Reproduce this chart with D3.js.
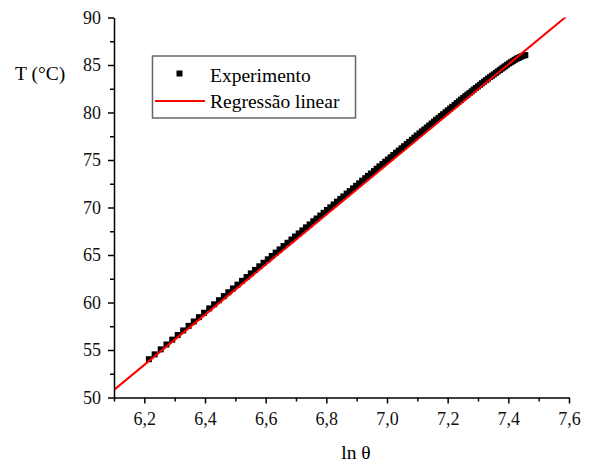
<!DOCTYPE html>
<html>
<head>
<meta charset="utf-8">
<script src="https://cdn.jsdelivr.net/npm/d3@7"></script>
<style>
body { margin: 0; background: #fff; }
</style>
</head>
<body>
<svg width="594" height="464"></svg>
<script>
// experimental points (ln theta, T in C)
let lnTheta = [6.215,6.234,6.254,6.273,6.292,6.310,6.328,6.346,6.363,6.380,6.397,6.414,6.430,6.446,6.462,6.477,6.492,6.507,6.522,6.537,
  6.551,6.565,6.579,6.593,6.607,6.620,6.633,6.646,6.659,6.672,6.685,6.697,6.709,6.721,6.733,6.745,6.757,6.768,6.780,6.791,
  6.802,6.813,6.824,6.835,6.846,6.856,6.867,6.877,6.888,6.898,6.908,6.918,6.928,6.937,6.947,6.957,6.966,6.975,6.985,6.994,
  7.003,7.012,7.021,7.030,7.039,7.048,7.056,7.065,7.073,7.082,7.090,7.098,7.107,7.115,7.123,7.131,7.139,7.147,7.155,7.162,
  7.170,7.178,7.185,7.193,7.200,7.208,7.215,7.223,7.230,7.237,7.244,7.251,7.258,7.265,7.272,7.279,7.286,7.293,7.300,7.307,
  7.313,7.320,7.327,7.333,7.340,7.346,7.352,7.359,7.365,7.372,7.378,7.384,7.390,7.396,7.403,7.409,7.415,7.421,7.427,7.433,
  7.438,7.444,7.450,7.456];
let temps = [54.03,54.54,55.07,55.58,56.09,56.58,57.06,57.54,58.00,58.46,58.92,59.38,59.81,60.24,60.67,61.08,61.48,61.88,62.28,62.68,
  63.06,63.43,63.81,64.18,64.55,64.90,65.25,65.59,65.94,66.29,66.63,66.95,67.27,67.59,67.91,68.22,68.55,68.84,69.15,69.44,
  69.74,70.02,70.32,70.61,70.90,71.17,71.46,71.72,72.01,72.28,72.54,72.82,73.08,73.33,73.58,73.83,74.08,74.33,74.58,74.82,
  75.05,75.29,75.53,75.77,76.00,76.23,76.45,76.68,76.90,77.13,77.35,77.58,77.80,78.01,78.21,78.42,78.63,78.84,79.04,79.24,
  79.44,79.63,79.82,80.02,80.22,80.41,80.60,80.80,80.99,81.17,81.35,81.53,81.71,81.88,82.05,82.23,82.41,82.58,82.75,82.92,
  83.08,83.25,83.41,83.57,83.73,83.87,84.01,84.17,84.32,84.47,84.62,84.75,84.88,85.03,85.18,85.30,85.41,85.54,85.66,85.74,
  85.82,85.91,85.99,86.04];

// linear fit end points
let fitX = [6.1, 7.6];
let fitY = [50.8, 90.34];

let xTicks = [6.2, 6.4, 6.6, 6.8, 7.0, 7.2, 7.4, 7.6];
let xMinor = [6.1, 6.3, 6.5, 6.7, 6.9, 7.1, 7.3, 7.5];
let yTicks = [50, 55, 60, 65, 70, 75, 80, 85, 90];
let yMinor = [52.5, 57.5, 62.5, 67.5, 72.5, 77.5, 82.5, 87.5];

let serif = '"Liberation Serif", "DejaVu Serif", serif';
let svg = d3.select('svg');
let pLeft = 114, pRight = 569, pTop = 17.5, pBottom = 397.5;

let x = d3.scaleLinear().domain([6.1, 7.6]).range([pLeft, pRight]);
let y = d3.scaleLinear().domain([50, 90]).range([pBottom, pTop]);
let fmt = d => d3.format('.1f')(d).replace('.', ',');

svg.append('defs').append('clipPath').attr('id', 'plot')
  .append('rect').attr('x', pLeft).attr('y', pTop).attr('width', pRight - pLeft).attr('height', pBottom - pTop);

// points
svg.append('g').attr('clip-path', 'url(#plot)').selectAll('rect').data(lnTheta).enter().append('rect')
  .attr('x', d => x(d) - 3)
  .attr('y', (d, i) => y(temps[i]) - 3)
  .attr('width', 6).attr('height', 6)
  .attr('fill', '#000');

// fit line
svg.append('g').attr('clip-path', 'url(#plot)').append('path')
  .datum(fitX.map((d, i) => [d, fitY[i]]))
  .attr('d', d3.line().x(d => x(d[0])).y(d => y(d[1])))
  .attr('fill', 'none').attr('stroke', '#ff0000').attr('stroke-width', 2);

// axes
let xg = svg.append('g').attr('transform', `translate(0,${pBottom})`);
xg.call(d3.axisBottom(x).tickValues(xMinor).tickSize(4).tickFormat(''));
xg.call(g => g.select('.domain').remove());
let xg2 = svg.append('g').attr('transform', `translate(0,${pBottom})`)
  .call(d3.axisBottom(x).tickValues(xTicks).tickSize(6).tickSizeOuter(0).tickFormat(fmt));
xg2.selectAll('text').attr('dy', '1.05em');

let yg = svg.append('g').attr('transform', `translate(${pLeft},0)`);
yg.call(d3.axisLeft(y).tickValues(yMinor).tickSize(4).tickFormat(''));
yg.call(g => g.select('.domain').remove());
let yg2 = svg.append('g').attr('transform', `translate(${pLeft},0)`)
  .call(d3.axisLeft(y).tickValues(yTicks).tickSize(6).tickSizeOuter(0).tickFormat(d3.format('d')));
yg2.selectAll('text').attr('x', -13);

svg.selectAll('.domain, .tick line').attr('stroke', '#000').attr('stroke-width', 1.5);
svg.selectAll('.tick text').style('font-family', serif).style('font-size', '18px').attr('fill', '#111');

// axis titles
svg.append('text').attr('x', 15).attr('y', 80).style('font-family', serif).style('font-size', '19.5px').text('T (°C)');
svg.append('text').attr('x', 356).attr('y', 459).attr('text-anchor', 'middle')
  .style('font-family', serif).style('font-size', '19.5px').text('ln θ');

// legend
let leg = svg.append('g');
leg.append('rect').attr('x', 152.5).attr('y', 56).attr('width', 203).attr('height', 62)
  .attr('fill', '#fff').attr('stroke', '#666').attr('stroke-width', 1.5);
leg.append('rect').attr('x', 176.5).attr('y', 70.5).attr('width', 6).attr('height', 6).attr('fill', '#000');
leg.append('line').attr('x1', 155).attr('x2', 205).attr('y1', 101).attr('y2', 101)
  .attr('stroke', '#ff0000').attr('stroke-width', 2);
leg.append('text').attr('x', 210).attr('y', 82).style('font-family', serif).style('font-size', '19.5px').text('Experimento');
leg.append('text').attr('x', 210).attr('y', 108).style('font-family', serif).style('font-size', '19.5px').text('Regressão linear');
</script>
</body>
</html>
